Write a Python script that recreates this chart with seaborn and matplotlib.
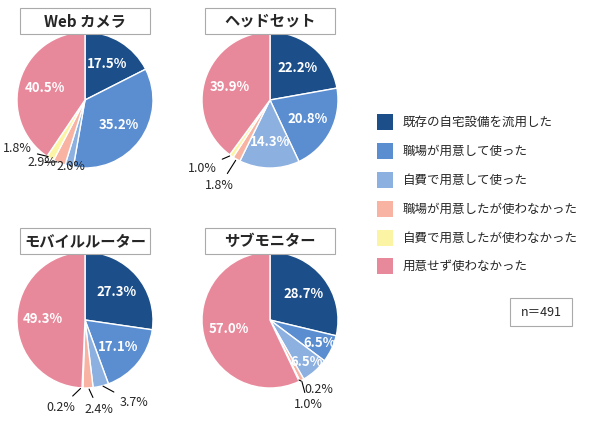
import matplotlib
matplotlib.use("Agg")
import matplotlib.pyplot as plt
import seaborn as sns
import numpy as np

sns.set_theme(style="white")
plt.rcParams['font.family'] = ['Noto Sans CJK JP', 'DejaVu Sans']

categories = ["既存の自宅設備を流用した", "職場が用意して使った", "自費で用意して使った",
              "職場が用意したが使わなかった", "自費で用意したが使わなかった", "用意せず使わなかった"]
titles = ["Web カメラ", "ヘッドセット", "モバイルルーター", "サブモニター"]
web_cam = [17.5, 35.2, 2.0, 2.9, 1.8, 40.5]
headset = [22.2, 20.8, 14.3, 1.8, 1.0, 39.9]
router = [27.3, 17.1, 3.7, 2.4, 0.2, 49.3]
monitor = [28.7, 6.5, 6.5, 1.0, 0.2, 57.0]
n_total = 491

colors = ["#1c4f8a", "#5b8ed1", "#8cb0e0", "#f8b3a3", "#fbf4a5", "#e8899b"]

# outside label positions (pie-radius units) for small slices: index -> (x, y)
outside = [
    {2: (-0.2, -0.98), 3: (-0.63, -0.92), 4: (-1.0, -0.72)},
    {3: (-0.74, -1.26), 4: (-1.0, -1.0)},
    {2: (0.72, -1.22), 3: (0.2, -1.32), 4: (-0.36, -1.29)},
    {3: (0.56, -1.25), 4: (0.72, -1.02)},
]
# inside label radius overrides
inner_r = [{}, {}, {}, {1: 0.8, 2: 0.82}]

W, H = 590, 425
fig = plt.figure(figsize=(W / 100, H / 100), dpi=100)
centers = [(85, 100), (270, 100), (85, 320), (270, 320)]
R = 68

for vals, title, (cx, cy), outs, rr in zip([web_cam, headset, router, monitor], titles,
                                           centers, outside, inner_r):
    ax = fig.add_axes([(cx - R) / W, 1 - (cy + R) / H, 2 * R / W, 2 * R / H])
    wedges, _ = ax.pie(vals, colors=colors, startangle=90, counterclock=False,
                       wedgeprops=dict(edgecolor="white", linewidth=1))
    ax.set_xlim(-1, 1)
    ax.set_ylim(-1, 1)
    ax.set_aspect("equal")
    for i, (w, v) in enumerate(zip(wedges, vals)):
        ang = np.deg2rad((w.theta1 + w.theta2) / 2)
        if i in outs:
            tx, ty = outs[i]
            ax.annotate(f"{v:.1f}%", xy=(np.cos(ang) * 0.98, np.sin(ang) * 0.98),
                        xytext=(tx, ty), ha="center", va="center", fontsize=9,
                        arrowprops=dict(arrowstyle="-", color="black", lw=0.8),
                        annotation_clip=False)
        else:
            r = rr.get(i, 0.62)
            ax.text(np.cos(ang) * r, np.sin(ang) * r, f"{v:.1f}%", ha="center", va="center",
                    color="white", fontsize=9.5, fontweight="bold")
    # title box
    ty = cy - 79
    fig.patches.append(plt.Rectangle(((cx - 65) / W, 1 - (ty + 13) / H), 130 / W, 26 / H,
                                     transform=fig.transFigure, fc="white", ec="#aaaaaa", lw=0.8))
    fig.text(cx / W, 1 - ty / H, title, ha="center", va="center", fontsize=11,
             fontweight="bold")

ys = [122, 151, 180, 209, 238, 266]
for c, lab, y in zip(colors, categories, ys):
    fig.patches.append(plt.Rectangle((377 / W, 1 - (y + 8) / H), 16 / W, 16 / H,
                                     transform=fig.transFigure, fc=c, ec="none"))
    fig.text(403 / W, 1 - y / H, lab, ha="left", va="center", fontsize=9)

fig.patches.append(plt.Rectangle((510 / W, 1 - 326 / H), 62 / W, 28 / H,
                                 transform=fig.transFigure, fc="white", ec="#aaaaaa", lw=0.8))
fig.text(541 / W, 1 - 312 / H, f"n＝{n_total}", ha="center", va="center", fontsize=9)

fig.savefig("out.png", dpi=100)
